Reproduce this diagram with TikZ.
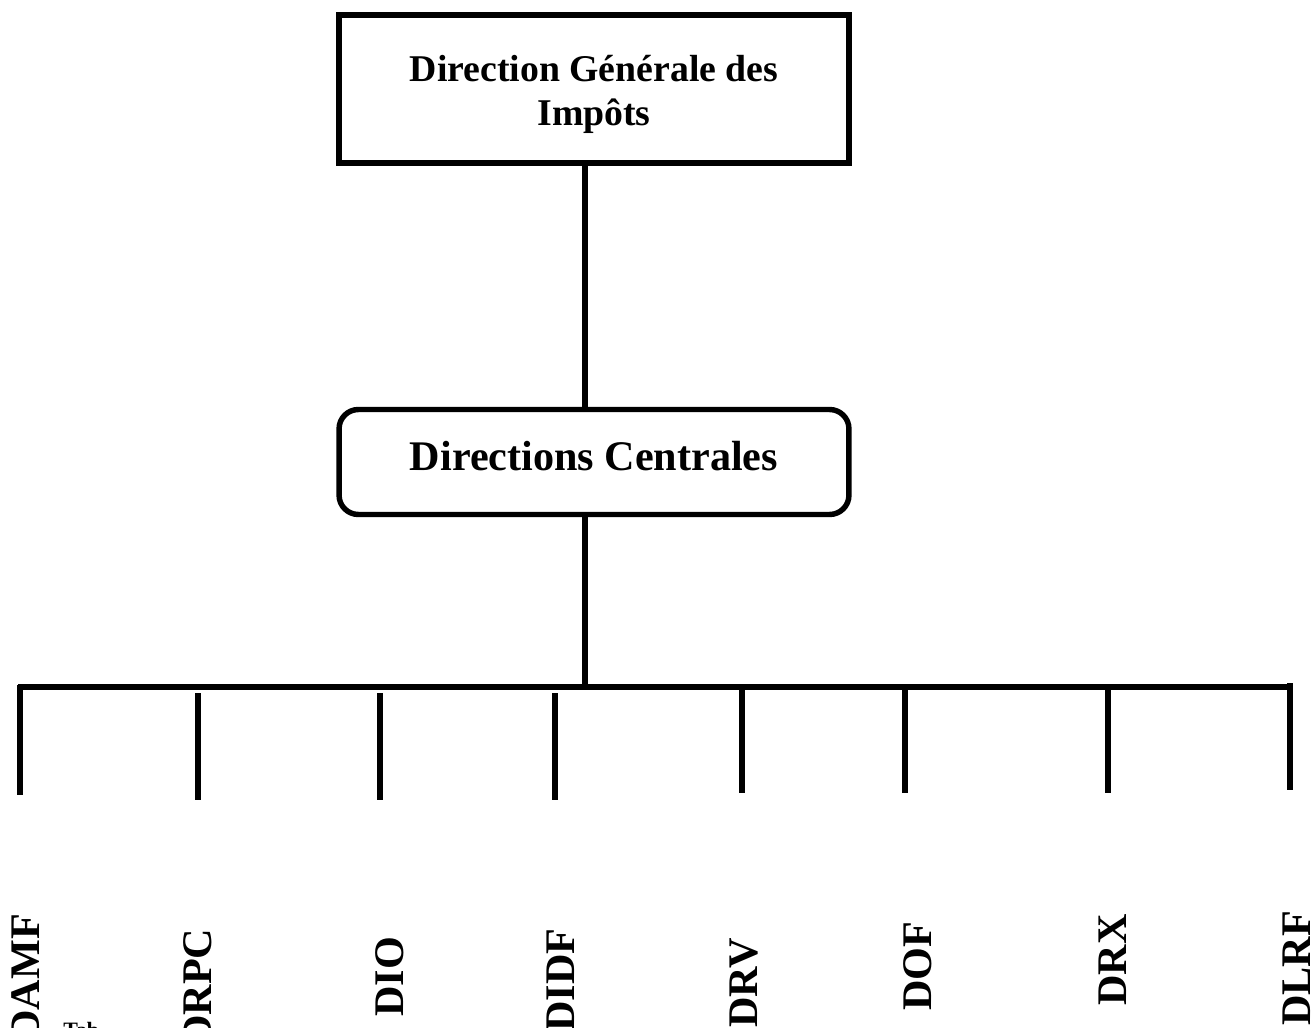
\documentclass[tikz,border=0pt]{standalone}
\usepackage{fontspec}
\setmainfont{Liberation Serif}
\begin{document}
\begin{tikzpicture}[
        x=0.02cm, y=-0.02cm,
        thickline/.style={line width=3.1pt},
        orgbox/.style={draw, thickline, minimum width=10.2cm, inner sep=0pt, align=center},
        service/.style={rotate=90, anchor=base west, inner sep=0pt, font=\bfseries\fontsize{24}{28}\selectfont}
    ]
    \useasboundingbox (0,0) rectangle (1314,1027);

    \node[orgbox, minimum height=2.96cm, font=\bfseries\fontsize{21.5}{25}\selectfont] (dgi) at (594,89)
        {\raisebox{-3.5pt}[\height][\depth]{\begin{tabular}{@{}c@{}}Direction Générale des\\Impôts\end{tabular}}};
    \node[orgbox, rounded corners=11pt, minimum height=2.1cm, font=\bfseries\fontsize{24}{28}\selectfont] (dc) at (594,462)
        {\raisebox{3.5pt}[\height][\depth]{Directions Centrales}};

    \coordinate (hub) at (585,687);
    \coordinate (barl) at (18,687);
    \coordinate (barr) at (1293,687);

    \draw[thickline] (dgi.south -| hub) -- (dc.north -| hub);
    \draw[thickline] (dc.south -| hub) -- (hub);
    \draw[thickline] (barl) -- (barr);

    % branches
    \foreach \bx/\ya/\yb [count=\i] in {20/685/795, 198/693/800, 380/693/800, 555/693/800,
                                        742/687/793, 905/687/793, 1108/687/793, 1290/683/790}{
        \coordinate (t\i) at (\bx,\ya);
        \coordinate (e\i) at (\bx,\yb);
        \draw[thickline] (t\i) -- (e\i);
    }

    \node[service] (damf) at (39,1041) {DAMF};
    \node[service] (drpc) at (211,1046) {DRPC};
    \node[service] (dio)  at (403,1017) {DIO};
    \node[service] (didf) at (574,1032) {DIDF};
    \node[service] (drv)  at (757,1028) {DRV};
    \node[service] (dof)  at (931,1011) {DOF};
    \node[service] (drx)  at (1126,1006) {DRX};
    \node[service] (dlrf) at (1310,1026) {DLRF};

    \node[anchor=north west, inner sep=0pt, font=\bfseries\fontsize{12.5}{14}\selectfont] (tab) at (63,1022) {Tab};
\end{tikzpicture}
\end{document}
